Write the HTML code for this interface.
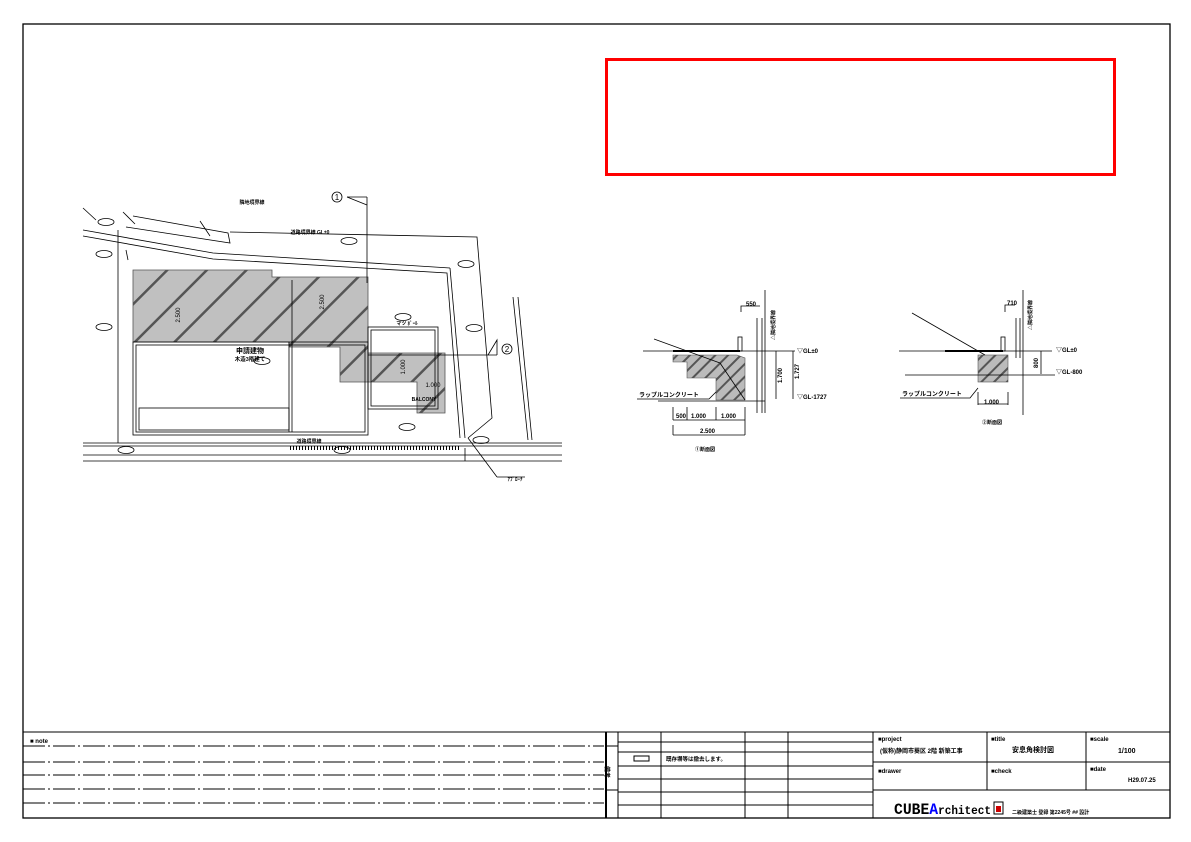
<!DOCTYPE html>
<html><head><meta charset="utf-8"><style>
html,body{margin:0;padding:0;background:#fff;width:1191px;height:842px;overflow:hidden}
svg{display:block}
text{font-family:"Liberation Sans","Noto Sans CJK JP",sans-serif;fill:#000}
</style></head><body>
<svg width="1191" height="842" viewBox="0 0 1191 842" xmlns="http://www.w3.org/2000/svg">
<defs>
<pattern id="h" patternUnits="userSpaceOnUse" width="28" height="28" patternTransform="rotate(45)">
<rect width="28" height="28" fill="#c0c0c0"/>
<rect x="0" y="0" width="2.5" height="28" fill="#555"/>
</pattern>
<pattern id="h2" patternUnits="userSpaceOnUse" width="9" height="9" patternTransform="rotate(45)">
<rect width="9" height="9" fill="#bbb"/>
<rect x="0" y="0" width="2" height="9" fill="#555"/>
</pattern>
</defs>
<rect x="23" y="24" width="1147" height="794" fill="none" stroke="#000" stroke-width="1.3"/>
<rect x="606.5" y="59.5" width="508" height="115" fill="none" stroke="#f00" stroke-width="3"/>

<g stroke="#000" stroke-width="1" fill="none">
<line x1="23" y1="732" x2="1170" y2="732"/>
<line x1="606" y1="732" x2="606" y2="818" stroke-width="2"/>
<line x1="618" y1="732" x2="618" y2="818"/>
<line x1="661" y1="732" x2="661" y2="818"/>
<line x1="745" y1="732" x2="745" y2="818"/>
<line x1="788" y1="732" x2="788" y2="818"/>
<line x1="873" y1="732" x2="873" y2="818"/>
<line x1="987" y1="732" x2="987" y2="790"/>
<line x1="1086" y1="732" x2="1086" y2="790"/>
<line x1="873" y1="762" x2="1170" y2="762"/>
<line x1="873" y1="790" x2="1170" y2="790"/>
<line x1="618" y1="742" x2="873" y2="742"/>
<line x1="618" y1="752" x2="873" y2="752"/>
<line x1="618" y1="766" x2="873" y2="766"/>
<line x1="618" y1="779" x2="873" y2="779"/>
<line x1="618" y1="792" x2="873" y2="792"/>
<line x1="618" y1="805" x2="873" y2="805"/>
<line x1="606" y1="746" x2="618" y2="746"/>
<line x1="606" y1="790" x2="618" y2="790"/>
<rect x="634" y="756" width="15" height="5"/>
</g>
<g stroke="#000" stroke-width="0.9" stroke-dasharray="22 3 2 3">
<line x1="23" y1="746" x2="604" y2="746"/>
<line x1="23" y1="762" x2="604" y2="762"/>
<line x1="23" y1="775" x2="604" y2="775"/>
<line x1="23" y1="789" x2="604" y2="789"/>
<line x1="23" y1="803" x2="604" y2="803"/>
</g>
<g font-size="6" font-weight="bold">
<text x="30" y="743">■ note</text>
<text x="666" y="761" font-size="5.5">既存塀等は撤去します。</text>
<text x="878" y="741">■project</text>
<text x="880" y="753" font-size="6">(仮称)静岡市葵区 2階 新築工事</text>
<text x="991" y="741">■title</text>
<text x="1012" y="752" font-size="7">安息角検討図</text>
<text x="1090" y="741">■scale</text>
<text x="1118" y="753" font-size="7">1/100</text>
<text x="878" y="773">■drawer</text>
<text x="991" y="773">■check</text>
<text x="1090" y="771">■date</text>
<text x="1128" y="782">H29.07.25</text>
<text x="1012" y="814" font-size="5">二級建築士 登録 第2245号 ## 設計</text>
<text x="607" y="776" font-size="6" transform="rotate(90 611 770)">備考</text>
</g>
<text x="894" y="814" font-size="16" font-weight="bold" textLength="97" lengthAdjust="spacingAndGlyphs" style="font-family:'Liberation Mono',monospace">CUBE<tspan fill="#00f">A</tspan><tspan font-size="12">rchitect</tspan></text>
<rect x="994" y="802" width="9" height="12" fill="none" stroke="#000"/><rect x="996" y="806" width="5" height="6" fill="#c00"/>

<polygon points="133,270 272,270 272,277 368,277 368,353 445,353 445,413 417,413 417,382 340,382 340,347 289,347 289,342 133,342" fill="url(#h)" stroke="#555" stroke-width="0.8"/>
<g stroke="#000" stroke-width="0.8" fill="none">
<rect x="133" y="342" width="235" height="93"/>
<rect x="136" y="345" width="229" height="87"/>
<rect x="139" y="408" width="150" height="22"/>
<line x1="289" y1="342" x2="289" y2="432"/><line x1="292" y1="280" x2="292" y2="432"/>
<rect x="368" y="327" width="70" height="82"/><rect x="371" y="330" width="64" height="76"/>
<line x1="118" y1="230" x2="118" y2="443"/>
<polyline points="83,230 213,253 450,268"/>
<polyline points="83,236 213,259 447,273 460,438"/>
<polyline points="450,268 465,438"/>
<polyline points="230,232 477,237 492,418 468,438"/>
<line x1="468" y1="438" x2="497" y2="477"/><line x1="497" y1="477" x2="525" y2="477"/>
<polyline points="133,216 228,233 230,243 126,227"/>
<line x1="83" y1="208" x2="96" y2="220"/><line x1="123" y1="212" x2="135" y2="224"/><line x1="200" y1="221" x2="210" y2="236"/>
<line x1="126" y1="250" x2="128" y2="260"/>
<line x1="83" y1="443" x2="562" y2="443"/>
<line x1="83" y1="446" x2="562" y2="446"/>
<line x1="83" y1="455" x2="562" y2="455"/>
<line x1="83" y1="461" x2="562" y2="461"/>
<line x1="465" y1="448" x2="465" y2="461"/>
<line x1="513" y1="297" x2="528" y2="440"/><line x1="518" y1="297" x2="532" y2="440"/>
<line x1="367" y1="197" x2="367" y2="283"/><line x1="347" y1="197" x2="367" y2="205"/><line x1="347" y1="197" x2="367" y2="197"/>
<line x1="368" y1="355" x2="497" y2="355"/><polyline points="488,355 497,340 497,355"/>
<circle cx="337" cy="197" r="5"/><circle cx="507" cy="349" r="5"/>
</g>
<g stroke="#000" stroke-width="0.5">
<line x1="290" y1="448" x2="460" y2="448" stroke-dasharray="1 2" stroke-width="4"/>
</g>
<g font-size="7" font-weight="bold" text-anchor="middle">
<text x="337" y="200" font-weight="normal" font-size="8">1</text>
<text x="507" y="352" font-weight="normal" font-size="8">2</text>
<text x="250" y="353" font-size="7">申請建物</text>
<text x="250" y="361" font-size="5.5">木造3階建て</text>
<text x="252" y="204" font-size="5">隣地境界線</text>
<text x="310" y="234" font-size="5">道路境界線 GL±0</text>
<text x="407" y="325" font-size="5">マツ ﾎﾟｰﾙ</text>
<text x="424" y="401" font-size="5">BALCONY</text>
<text x="433" y="387" font-size="6" font-weight="normal">1.000</text>
<text x="515" y="481" font-size="5">ｱﾌﾟﾛｰﾁ</text>
<text x="309" y="443" font-size="5">道路境界線</text>
</g>
<g font-size="6" text-anchor="middle">
<text x="180" y="315" transform="rotate(-90 180 315)">2.500</text>
<text x="324" y="302" transform="rotate(-90 324 302)">2.500</text>
<text x="405" y="367" transform="rotate(-90 405 367)">1.000</text>
</g>
<g fill="none" stroke="#000" stroke-width="0.8">
<ellipse cx="104" cy="254" rx="8" ry="3.5"/><ellipse cx="104" cy="327" rx="8" ry="3.5"/>
<ellipse cx="106" cy="222" rx="8" ry="3.5"/><ellipse cx="262" cy="361" rx="8" ry="3.5"/>
<ellipse cx="349" cy="241" rx="8" ry="3.5"/><ellipse cx="403" cy="317" rx="8" ry="3.5"/>
<ellipse cx="466" cy="264" rx="8" ry="3.5"/><ellipse cx="474" cy="328" rx="8" ry="3.5"/>
<ellipse cx="407" cy="427" rx="8" ry="3.5"/><ellipse cx="481" cy="440" rx="8" ry="3.5"/>
<ellipse cx="126" cy="450" rx="8" ry="3.5"/><ellipse cx="342" cy="450" rx="8" ry="3.5"/>
</g>

<polygon points="673,355 737,355 745,358 745,400 716,400 716,378 687,378 687,362 673,362" fill="url(#h2)" stroke="#555" stroke-width="0.6"/>
<g stroke="#000" stroke-width="0.8" fill="none">
<line x1="643" y1="351" x2="795" y2="351"/>
<line x1="673" y1="351" x2="740" y2="351" stroke-width="2"/>
<line x1="654" y1="339" x2="720" y2="363"/>
<line x1="720" y1="363" x2="745" y2="400"/>
<line x1="658" y1="401" x2="765" y2="401"/>
<line x1="765" y1="290" x2="765" y2="413"/>
<line x1="757" y1="318" x2="757" y2="413"/><line x1="762" y1="318" x2="762" y2="413"/>
<rect x="738" y="337" width="4" height="14"/>
<polyline points="741,312 741,306 760,306"/>
<line x1="776" y1="351" x2="776" y2="399"/><line x1="793" y1="351" x2="793" y2="399"/>
<line x1="673" y1="407" x2="673" y2="420"/><line x1="687" y1="407" x2="687" y2="420"/><line x1="716" y1="407" x2="716" y2="420"/><line x1="745" y1="407" x2="745" y2="435"/>
<line x1="673" y1="420" x2="745" y2="420"/>
<line x1="673" y1="425" x2="673" y2="435"/><line x1="673" y1="435" x2="745" y2="435"/>
<polyline points="637,399 709,399 716,392"/>
</g>
<g font-size="6" font-weight="bold">
<text x="746" y="306">550</text>
<text x="797" y="353">▽GL±0</text>
<text x="797" y="399">▽GL-1727</text>
<text x="639" y="397">ラップルコンクリート</text>
<text x="676" y="418">500</text><text x="691" y="418">1.000</text><text x="721" y="418">1.000</text>
<text x="700" y="433">2.500</text>
<text x="695" y="451" font-size="5">①断面図</text>
<text x="782" y="383" transform="rotate(-90 782 383)">1.700</text>
<text x="799" y="379" transform="rotate(-90 799 379)">1.727</text>
<text x="775" y="340" transform="rotate(-90 775 340)" font-size="5">△隣地境界線</text>
</g>

<rect x="978" y="355" width="30" height="27" fill="url(#h2)" stroke="#555" stroke-width="0.6"/>
<g stroke="#000" stroke-width="0.8" fill="none">
<line x1="899" y1="351" x2="1052" y2="351"/>
<line x1="945" y1="351" x2="1003" y2="351" stroke-width="2"/>
<line x1="912" y1="313" x2="985" y2="355"/>
<line x1="905" y1="375" x2="1055" y2="375"/>
<line x1="1023" y1="290" x2="1023" y2="415"/>
<line x1="1016" y1="318" x2="1016" y2="358"/><line x1="1020" y1="318" x2="1020" y2="358"/>
<rect x="1001" y="337" width="4" height="14"/>
<polyline points="1005,312 1005,305 1015,305"/>
<line x1="978" y1="392" x2="978" y2="405"/><line x1="1008" y1="392" x2="1008" y2="405"/><line x1="978" y1="404" x2="1008" y2="404"/>
<line x1="1041" y1="351" x2="1041" y2="374"/>
<polyline points="900,398 970,398 978,388"/>
</g>
<g font-size="6" font-weight="bold">
<text x="1007" y="305">710</text>
<text x="1056" y="352">▽GL±0</text>
<text x="1056" y="374">▽GL-800</text>
<text x="902" y="396">ラップルコンクリート</text>
<text x="984" y="404">1.000</text>
<text x="982" y="424" font-size="5">②断面図</text>
<text x="1038" y="368" transform="rotate(-90 1038 368)">800</text>
<text x="1032" y="330" transform="rotate(-90 1032 330)" font-size="5">△隣地境界線</text>
</g>
</svg>
</body></html>
